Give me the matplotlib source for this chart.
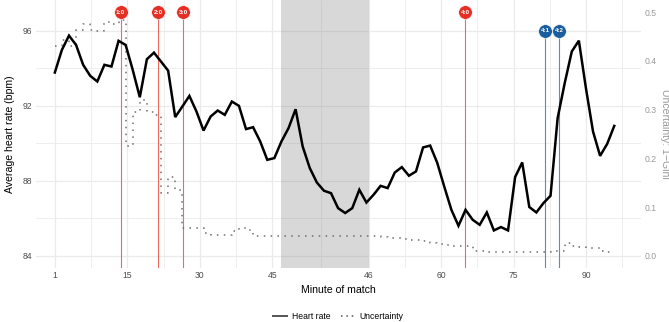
import numpy as np
import matplotlib.pyplot as plt
from matplotlib.lines import Line2D

plt.rcParams['font.family'] = ['Liberation Sans', 'DejaVu Sans']

# axis units: first half minute 1 sits at 0, second half starts at 65
sample_step = 1.466
heart_rate = [93.78, 94.99, 95.75, 95.25, 94.19, 93.60, 93.30, 94.19, 94.10, 95.47,
              95.25, 93.92, 92.46, 94.49, 94.84, 94.36, 93.88, 91.40, 91.96, 92.53,
              91.70, 90.68, 91.43, 91.75, 91.52, 92.23, 92.00, 90.76, 90.86, 90.10,
              89.12, 89.21, 90.10, 90.81, 91.82, 89.83, 88.68, 87.91, 87.47, 87.34,
              86.54, 86.28, 86.54, 87.52, 86.84, 87.25, 87.73, 87.61, 88.44, 88.73,
              88.27, 88.50, 89.78, 89.88, 88.96, 87.68, 86.45, 85.60, 86.45, 85.92,
              85.65, 86.31, 85.35, 85.53, 85.35, 88.20, 88.98, 86.60, 86.31, 86.81,
              87.20, 91.34, 93.21, 94.90, 95.48, 92.94, 90.63, 89.33, 89.97, 90.93]
uncertainty = [0.430, 0.443, 0.430, 0.464, 0.476, 0.464, 0.462, 0.480, 0.476, 0.484,
               0.226, 0.295, 0.320, 0.295, 0.289, 0.128, 0.162, 0.134, 0.057, 0.057,
               0.057, 0.046, 0.043, 0.043, 0.043, 0.050, 0.057, 0.053, 0.040, 0.040,
               0.040, 0.040, 0.040, 0.040, 0.040, 0.040, 0.040, 0.040, 0.040, 0.040,
               0.040, 0.040, 0.040, 0.040, 0.040, 0.040, 0.039, 0.036, 0.036, 0.034,
               0.033, 0.032, 0.030, 0.026, 0.024, 0.021, 0.020, 0.019, 0.019, 0.009,
               0.009, 0.008, 0.008, 0.008, 0.008, 0.008, 0.008, 0.008, 0.008, 0.008,
               0.009, 0.010, 0.027, 0.020, 0.017, 0.016, 0.015, 0.010, 0.007, 0.007]
sample_x = np.arange(len(heart_rate)) * sample_step

halftime = (46.8, 65.0)
goal_pos = [13.6, 21.4, 26.6, 85.0, 101.5, 104.4]
goal_labels = ['1:0', '2:0', '3:0', '4:0', '4:1', '4:2']
goal_team = ['home', 'home', 'home', 'home', 'away', 'away']

tick_pos = [0, 15, 30, 45, 65, 80, 95, 110]
tick_labels = ['1', '15', '30', '45', '46', '60', '75', '90']
minor_pos = [7.5, 22.5, 37.5, 55, 72.5, 87.5, 102.5, 117.5]

# uncertainty is drawn on the heart-rate scale: hr = 84 + u * 26
u_base, u_scale = 84, 26

fig = plt.figure(figsize=(6.69, 3.22), dpi=100)
ax = fig.add_axes([0.0538, 0.168, 0.904, 0.832])
ax.set_xlim(-3.9, 121.3)
ax.set_ylim(83.35, 97.65)

ax.set_xticks(tick_pos)
ax.set_xticklabels(tick_labels)
ax.set_xticks(minor_pos, minor=True)
ax.set_yticks([84, 88, 92, 96])
ax.set_yticks([86, 90, 94], minor=True)
ax.grid(which='major', color='#ebebeb', lw=0.9)
ax.grid(which='minor', color='#ebebeb', lw=0.6)
ax.set_axisbelow(True)
for s in ax.spines.values():
    s.set_visible(False)
ax.tick_params(which='both', length=0, labelsize=6.2, colors='#4d4d4d', pad=2.5)

ax.axvspan(*halftime, color='grey', alpha=0.3, lw=0, zorder=1)

team_color = {'home': '#e42f24', 'away': '#1b5e9e'}
line_color = {'home': '#ec6a60', 'away': '#5a8cc0'}
marker_y = {'home': 97.0, 'away': 96.0}
for p, lab, team in zip(goal_pos, goal_labels, goal_team):
    ax.vlines(p, ax.get_ylim()[0], marker_y[team], color=line_color[team], lw=0.8, zorder=2)
    ax.plot(p, marker_y[team], 'o', ms=9.8, color=team_color[team], mec='white', mew=0.4, zorder=5)
    ax.text(p, marker_y[team], lab, color='white', fontsize=4.5, fontweight='bold',
            ha='center', va='center', zorder=6)

u_plot = u_base + np.array(uncertainty) * u_scale
ax.plot(sample_x, u_plot, drawstyle='steps-post', color='#6e6e6e', lw=1.1,
        ls=(0, (1, 3.5)), zorder=3)
ax.plot(sample_x, heart_rate, color='black', lw=1.8, zorder=4, solid_joinstyle='miter')

ax.set_xlabel('Minute of match', fontsize=7.6, labelpad=3)
ax.set_ylabel('Average heart rate (bpm)', fontsize=7.6, labelpad=6)

sec = ax.secondary_yaxis('right', functions=(lambda h: (h - u_base) / u_scale,
                                             lambda u: u * u_scale + u_base))
sec.set_yticks([0.0, 0.1, 0.2, 0.3, 0.4, 0.5])
sec.set_yticklabels(['0.0', '0.1', '0.2', '0.3', '0.4', '0.5'])
for s in sec.spines.values():
    s.set_visible(False)
sec.tick_params(length=0, labelsize=6.2, colors='#9a9a9a', pad=3)
sec.set_ylabel('Uncertainty: 1\u2212Gini', fontsize=7.6, color='#9a9a9a',
               rotation=270, labelpad=9)

handles = [Line2D([], [], color='#555555', lw=1.4),
           Line2D([], [], color='#555555', lw=1.1, ls=(0, (1, 2.5)))]
ax.legend(handles, ['Heart rate', 'Uncertainty'], loc='center', bbox_to_anchor=(0.5, -0.183),
          ncol=2, frameon=False, fontsize=6.2, handlelength=1.6, columnspacing=1.2,
          handletextpad=0.6)

fig.savefig('out.png', dpi=100)
